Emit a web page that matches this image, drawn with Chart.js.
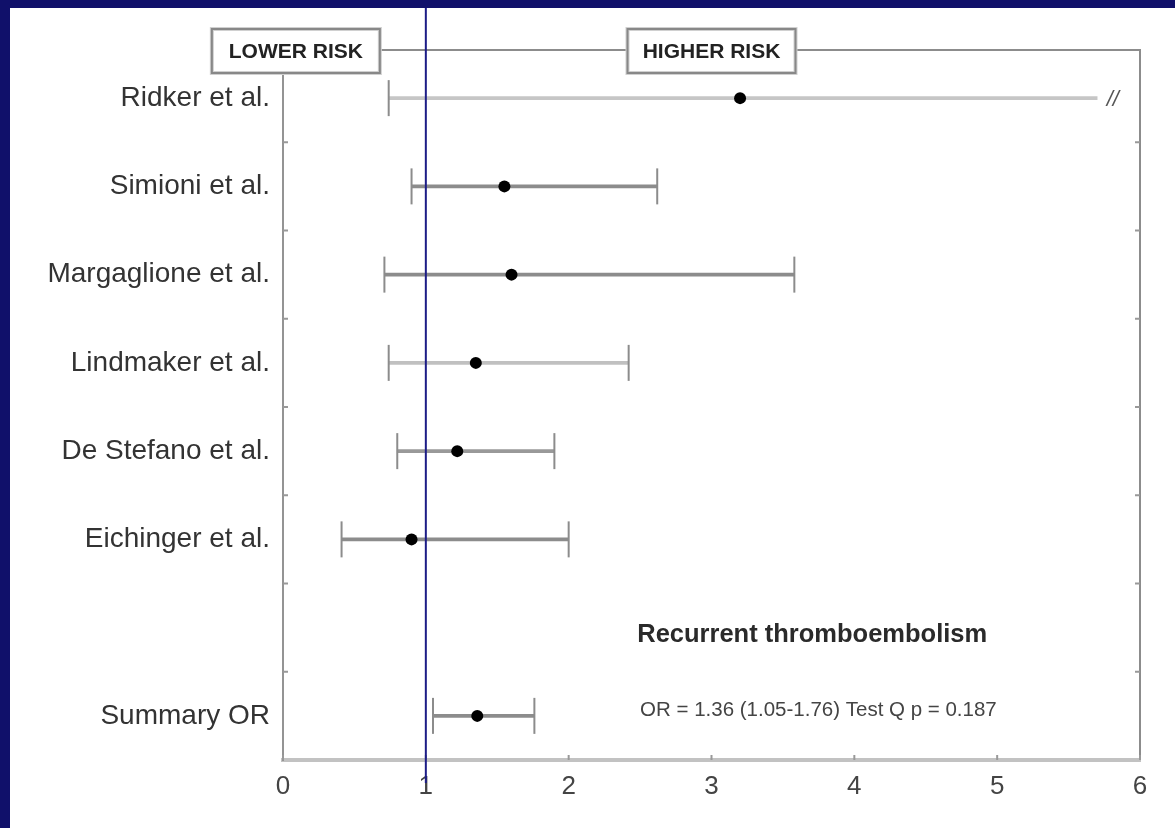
<!DOCTYPE html>
<html>
<head>
<meta charset="utf-8">
<script src="https://cdn.jsdelivr.net/npm/chart.js@4"></script>
<style>
  html, body { margin: 0; padding: 0; background: #10106a; }
  #wrap { position: absolute; left: 10px; top: 8px; width: 1165px; height: 820px; background: #fff; }
</style>
</head>
<body>
<div id="wrap"><canvas id="myChart" width="1165" height="820"></canvas></div>
<script>
// studies, top to bottom ('' is the empty row above the summary)
const studies = ['Ridker et al.', 'Simioni et al.', 'Margaglione et al.', 'Lindmaker et al.',
                 'De Stefano et al.', 'Eichinger et al.', '', 'Summary OR'];
const oddsRatio = [3.2, 1.55, 1.6, 1.35, 1.22, 0.9, null, 1.36];
const ciLow     = [0.74, 0.9, 0.71, 0.74, 0.8, 0.41, null, 1.05];
const ciHigh    = [5.7, 2.62, 3.58, 2.42, 1.9, 2.0, null, 1.76]; // Ridker is cut at 5.7 (//)
const brokenRow = 0; // Ridker upper limit goes off the scale
const xTicks = [0, 1, 2, 3, 4, 5, 6];

const FONT = '"Liberation Sans", Arial, sans-serif';

const intervals = studies.map((s, i) => ciLow[i] == null ? null : [ciLow[i], ciHigh[i]]);
const caps = [];
studies.forEach((s, i) => {
    if (ciLow[i] == null) return;
    caps.push({ x: ciLow[i], y: s });
    if (i !== brokenRow) caps.push({ x: ciHigh[i], y: s });
});
const points = studies.map((s, i) => oddsRatio[i] == null ? null : { x: oddsRatio[i], y: s }).filter(p => p);

const decor = {
    id: 'decor',
    afterDatasetsDraw(chart) {
        const ctx = chart.ctx;
        const a = chart.chartArea;
        const x = chart.scales.x, y = chart.scales.y;
        const topLine = a.top - 4;
        ctx.save();

        // top and right frame
        ctx.strokeStyle = '#8c8c8c';
        ctx.lineWidth = 2;
        ctx.beginPath();
        ctx.moveTo(a.left - 1, topLine); ctx.lineTo(a.right, topLine);
        ctx.lineTo(a.right, a.bottom);
        ctx.moveTo(a.left, topLine); ctx.lineTo(a.left, a.top);
        ctx.stroke();

        // inner ticks between rows, left and right
        ctx.strokeStyle = '#999';
        for (let i = 1; i < studies.length; i++) {
            const yy = (y.getPixelForTick(i - 1) + y.getPixelForTick(i)) / 2;
            ctx.beginPath();
            ctx.moveTo(a.left, yy); ctx.lineTo(a.left + 5, yy);
            ctx.moveTo(a.right, yy); ctx.lineTo(a.right - 5, yy);
            ctx.stroke();
        }
        // inner ticks on the bottom axis
        xTicks.forEach(v => {
            const xx = x.getPixelForValue(v);
            ctx.beginPath();
            ctx.moveTo(xx, a.bottom); ctx.lineTo(xx, a.bottom - 5);
            ctx.stroke();
        });

        // reference line at OR = 1
        const x1 = x.getPixelForValue(1);
        ctx.strokeStyle = '#1c1c86';
        ctx.lineWidth = 2;
        ctx.beginPath();
        ctx.moveTo(x1, 0); ctx.lineTo(x1, a.bottom + 23);
        ctx.stroke();

        // boxed labels on the top axis
        function box(text, cx) {
            ctx.font = 'bold 21px ' + FONT;
            const w = 168, h = 44;
            const left = cx - w / 2, top = topLine - 21;
            ctx.fillStyle = '#fff';
            ctx.fillRect(left, top, w, h);
            ctx.strokeStyle = '#d0d0d0';
            ctx.lineWidth = 4;
            ctx.strokeRect(left, top, w, h);
            ctx.strokeStyle = '#888';
            ctx.lineWidth = 2;
            ctx.strokeRect(left, top, w, h);
            ctx.fillStyle = '#222';
            ctx.textAlign = 'center';
            ctx.textBaseline = 'middle';
            ctx.fillText(text, cx, top + h / 2 + 1);
        }
        box('LOWER RISK', x.getPixelForValue(0.09));
        box('HIGHER RISK', x.getPixelForValue(3.0));

        // break mark on Ridker
        ctx.fillStyle = '#555';
        ctx.font = 'italic 22px ' + FONT;
        ctx.textAlign = 'center';
        ctx.textBaseline = 'middle';
        ctx.fillText('//', x.getPixelForValue(5.81), y.getPixelForValue(brokenRow) + 2);

        // notes
        ctx.textAlign = 'left';
        ctx.fillStyle = '#2a2a2a';
        ctx.font = 'bold 25.5px ' + FONT;
        ctx.fillText('Recurrent thromboembolism', x.getPixelForValue(2.48), y.getPixelForValue(6) + 7);
        ctx.fillStyle = '#444';
        ctx.font = '20.5px ' + FONT;
        ctx.fillText('OR = 1.36 (1.05-1.76) Test Q p = 0.187', x.getPixelForValue(2.5), y.getPixelForValue(7) - 6);

        ctx.restore();
    }
};

const ctx = document.getElementById('myChart').getContext('2d');
const myChart = new Chart(ctx, {
    type: 'bar',
    data: {
        labels: studies,
        datasets: [{
            type: 'bar',
            data: intervals,
            backgroundColor: ['#c6c6c6', '#8c8c8c', '#8c8c8c', '#c0c0c0', '#999', '#8c8c8c', '#8c8c8c', '#8c8c8c'],
            barThickness: 3,
            grouped: false,
            order: 3
        }, {
            type: 'scatter',
            data: caps,
            pointStyle: 'line',
            rotation: 90,
            radius: 18,
            borderColor: '#8c8c8c',
            borderWidth: 2,
            order: 2
        }, {
            type: 'scatter',
            data: points,
            pointStyle: 'circle',
            radius: 6,
            backgroundColor: '#000',
            borderColor: '#000',
            borderWidth: 0,
            order: 1
        }]
    },
    options: {
        indexAxis: 'y',
        responsive: false,
        animation: false,
        layout: { padding: { left: 0, top: 46, right: 35, bottom: 0 } },
        plugins: { legend: { display: false }, tooltip: { enabled: false } },
        scales: {
            x: {
                type: 'linear',
                min: 0,
                max: 6,
                afterFit: s => { s.height = 68; },
                afterBuildTicks: s => { s.ticks = xTicks.map(v => ({ value: v })); },
                ticks: { color: '#444', font: { family: FONT, size: 26 }, padding: 11 },
                grid: { drawOnChartArea: false, drawTicks: false },
                border: { color: '#c2c2c2', width: 4 }
            },
            y: {
                type: 'category',
                offset: true,
                afterFit: s => { s.width = 273; },
                ticks: { color: '#333', font: { family: FONT, size: 28 }, padding: 13 },
                grid: { offset: true, drawOnChartArea: false, drawTicks: false },
                border: { color: '#949494', width: 2 }
            }
        }
    },
    plugins: [decor]
});
</script>
</body>
</html>
